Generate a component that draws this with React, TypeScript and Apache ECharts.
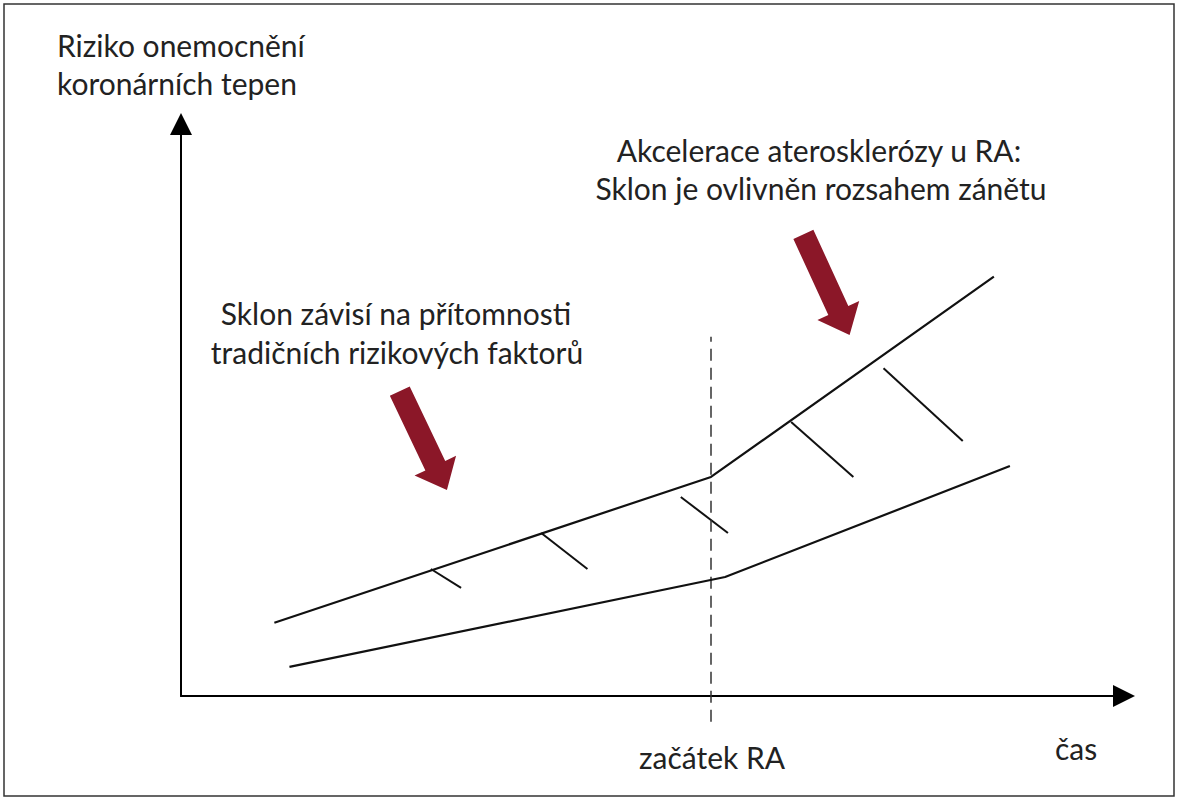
import { useEffect, useRef } from "react";
import * as echarts from "echarts";

// values in chart units: x 0..100 (čas), y 0..100 (riziko)
const upperLine = [
  [9.9, 12.8],
  [56.2, 38.3],
  [86.2, 73.3],
];
const lowerLine = [
  [11.5, 5.1],
  [57.7, 20.8],
  [87.9, 40.2],
];
const raStartX = 56.2;
const raLineRange = [-4.5, 62.8];

// short hatch marks hanging off the upper line
const hatchMarks = [
  [[26.5, 22.2], [29.7, 18.9]],
  [[38.2, 28.5], [43.1, 22.2]],
  [[53.0, 34.8], [58.0, 28.5]],
  [[64.7, 47.9], [71.3, 38.3]],
  [[74.5, 57.3], [82.9, 44.6]],
];

// red arrows: tail x, tail y, tip x, tip y
const redArrows = [
  [23.2, 53.3, 28.2, 36.0],
  [66.0, 80.7, 70.9, 63.1],
];

const yAxisTitle = ["Riziko onemocnění", "koronárních tepen"];
const rightNote = ["Akcelerace aterosklerózy u RA:", "Sklon je ovlivněn rozsahem zánětu"];
const leftNote = ["Sklon závisí na přítomnosti", "tradičních rizikových faktorů"];
const raLabel = "začátek RA";
const xAxisTitle = "čas";

const FONT = "Lato, 'Open Sans', sans-serif";
const TEXT_COLOR = "#222";

function App() {
  const chartRef = useRef<HTMLDivElement>(null);

  useEffect(() => {
    if (!chartRef.current) return;
    const chart = echarts.init(chartRef.current, undefined, { renderer: "svg" });

    const textEl = (text: string, x: number, y: number, align: string) => ({
      type: "text",
      x,
      y,
      style: {
        text,
        fill: TEXT_COLOR,
        font: `30px ${FONT}`,
        align,
        verticalAlign: "middle",
      },
    });

    const option: any = {
      animation: false,
      backgroundColor: "#fff",
      grid: { left: 181, right: 54, top: 124, bottom: 104 },
      xAxis: {
        type: "value",
        min: 0,
        max: 100,
        splitLine: { show: false },
        axisTick: { show: false },
        axisLabel: { show: false },
        axisLine: {
          show: true,
          onZero: false,
          symbol: ["none", "triangle"],
          symbolSize: [22, 22],
          lineStyle: { color: "#000", width: 2 },
        },
      },
      yAxis: {
        type: "value",
        min: 0,
        max: 100,
        splitLine: { show: false },
        axisTick: { show: false },
        axisLabel: { show: false },
        axisLine: {
          show: true,
          onZero: false,
          symbol: ["none", "triangle"],
          symbolSize: [22, 22],
          lineStyle: { color: "#000", width: 2 },
        },
      },
      series: [
        {
          type: "line",
          data: upperLine,
          showSymbol: false,
          lineStyle: { color: "#111", width: 2.2 },
        },
        {
          type: "line",
          data: lowerLine,
          showSymbol: false,
          lineStyle: { color: "#111", width: 2.2 },
        },
        {
          type: "lines",
          coordinateSystem: "cartesian2d",
          clip: false,
          data: hatchMarks.map((c) => ({ coords: c })),
          lineStyle: { color: "#111", width: 2, opacity: 1 },
        },
        {
          type: "lines",
          coordinateSystem: "cartesian2d",
          clip: false,
          data: [{ coords: [[raStartX, raLineRange[0]], [raStartX, raLineRange[1]]] }],
          lineStyle: { color: "#333", width: 1.5, type: [12, 7], opacity: 1 },
        },
        {
          type: "custom",
          clip: false,
          data: redArrows,
          renderItem: (params: any, api: any) => {
            const tail = api.coord([api.value(0), api.value(1)]);
            const tip = api.coord([api.value(2), api.value(3)]);
            const dx = tip[0] - tail[0];
            const dy = tip[1] - tail[1];
            const len = Math.sqrt(dx * dx + dy * dy);
            const ux = dx / len;
            const uy = dy / len;
            const nx = -uy;
            const ny = ux;
            const shaft = 11;
            const head = 23;
            const headLen = 27;
            const bx = tip[0] - ux * headLen;
            const by = tip[1] - uy * headLen;
            return {
              type: "polygon",
              shape: {
                points: [
                  [tail[0] + nx * shaft, tail[1] + ny * shaft],
                  [bx + nx * shaft, by + ny * shaft],
                  [bx + nx * head, by + ny * head],
                  [tip[0], tip[1]],
                  [bx - nx * head, by - ny * head],
                  [bx - nx * shaft, by - ny * shaft],
                  [tail[0] - nx * shaft, tail[1] - ny * shaft],
                ],
              },
              style: { fill: "#8b1728" },
            };
          },
        },
      ],
      graphic: [
        {
          type: "rect",
          shape: { x: 4, y: 4, width: 1170, height: 792 },
          style: { fill: "none", stroke: "#333", lineWidth: 1.5 },
        },
        textEl(yAxisTitle[0], 57, 45, "left"),
        textEl(yAxisTitle[1], 57, 83, "left"),
        textEl(rightNote[0], 819, 150, "center"),
        textEl(rightNote[1], 821, 188, "center"),
        textEl(leftNote[0], 396, 313, "center"),
        textEl(leftNote[1], 397, 352, "center"),
        textEl(raLabel, 712, 757, "center"),
        textEl(xAxisTitle, 1055, 748, "left"),
      ],
    };

    chart.setOption(option);
    return () => {
      chart.dispose();
    };
  }, []);

  return (
    <div
      ref={chartRef}
      style={{ position: "absolute", left: 0, top: 0, width: 1178, height: 800 }}
    />
  );
}

export default App;
